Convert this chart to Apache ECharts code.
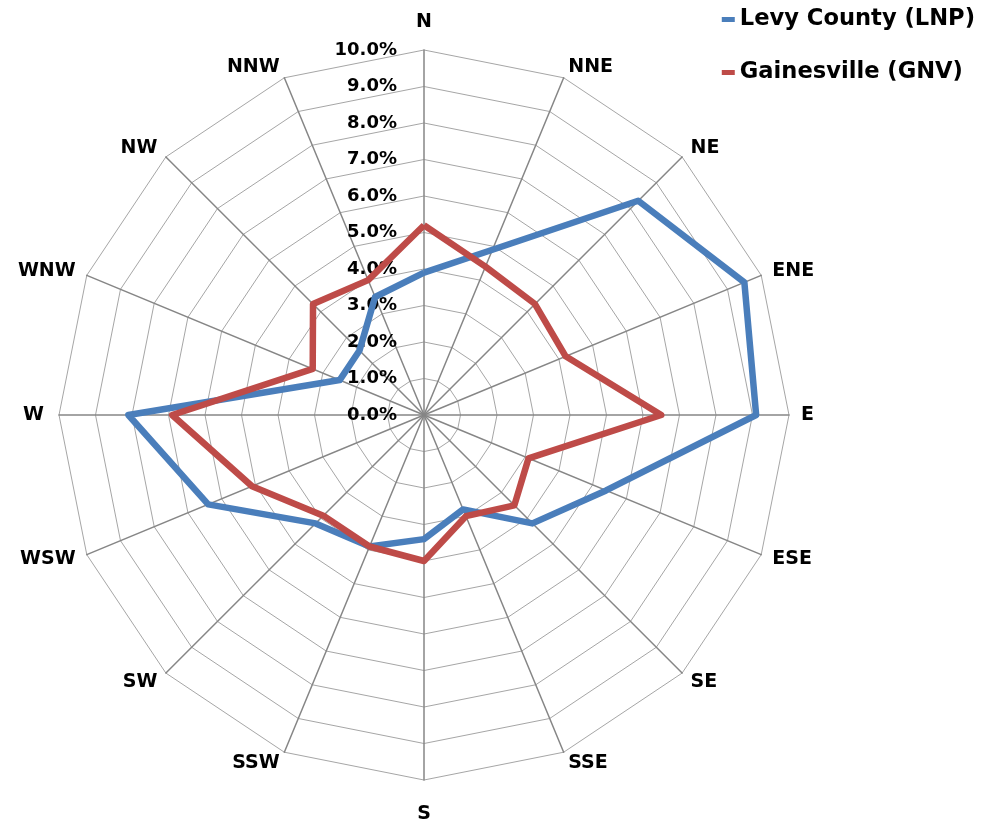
<!DOCTYPE html>
<html>
<head>
<meta charset="utf-8">
<script src="https://cdn.jsdelivr.net/npm/echarts@6/dist/echarts.min.js"></script>
<style>
html,body{margin:0;padding:0;background:#fff;}
#chart{width:992px;height:825px;}
</style>
</head>
<body>
<div id="chart"></div>
<script>
// Compass directions, clockwise from North
const directions = ['N','NNE','NE','ENE','E','ESE','SE','SSE','S','SSW','SW','WSW','W','WNW','NW','NNW'];
// Percent frequency of wind from each direction
const levyCounty = [3.9, 4.9, 8.3, 9.5, 9.1, 5.4, 4.2, 2.8, 3.4, 3.9, 4.2, 6.4, 8.1, 2.5, 2.5, 3.5];
const gainesville = [5.2, 4.4, 4.3, 4.2, 6.5, 3.1, 3.5, 3.0, 4.0, 3.9, 3.9, 5.1, 6.9, 3.3, 4.3, 4.0];
const seriesNames = ['Levy County (LNP)', 'Gainesville (GNV)'];
const axisMin = 0, axisMax = 10, axisStep = 1;

const FONT = '"DejaVu Sans", sans-serif';
// ECharts radar lays indicators counter-clockwise; reorder so they run clockwise.
const order = directions.map((d, i) => (directions.length - i) % directions.length);
const indicator = order.map((k, j) => {
  const ind = { name: directions[k], min: axisMin, max: axisMax };
  if (j === 0) {
    ind.axisLabel = {
      show: true, margin: 27, color: '#000', fontFamily: FONT, fontWeight: 'bold', fontSize: 18,
      formatter: v => Number(v).toFixed(1) + '%'
    };
  }
  return ind;
});
const reorder = arr => order.map(k => arr[k]);

const nameStyle = { color: '#000', fontFamily: FONT, fontWeight: 'bold', fontSize: 19 };
const chart = echarts.init(document.getElementById('chart'), null, { renderer: 'canvas' });
chart.setOption({
  backgroundColor: '#fff',
  animation: false,
  legend: {
    orient: 'vertical', right: 17, top: 8, itemGap: 30, padding: 0,
    icon: 'rect', itemWidth: 13, itemHeight: 5,
    textStyle: { fontFamily: FONT, fontWeight: 'bold', fontSize: 22.6, color: '#000' },
    data: seriesNames
  },
  radar: {
    center: [424, 415], radius: 365, startAngle: 90, shape: 'polygon',
    splitNumber: (axisMax - axisMin) / axisStep,
    indicator: indicator,
    axisName: Object.assign({}, nameStyle, {
      formatter: name => name === 'N' ? '{n|N}' : name === 'S' ? '{s|S}' : name === 'W' ? '{w|W}' : '{d|' + name + '}',
      rich: {
        n: Object.assign({}, nameStyle, { padding: [0, 0, 6, 0] }),
        s: Object.assign({}, nameStyle, { padding: [13, 0, 0, 0] }),
        w: Object.assign({}, nameStyle, { padding: [0, 3, 0, 0] }),
        d: Object.assign({}, nameStyle)
      }
    }),
    nameGap: 12,
    axisLine: { lineStyle: { color: '#868686', width: 1.5 } },
    splitLine: { lineStyle: { color: '#a6a6a6', width: 1 } },
    splitArea: { show: false },
    axisTick: { show: false },
    axisLabel: { show: false }
  },
  series: [{
    type: 'radar',
    symbol: 'none',
    data: [
      { name: seriesNames[0], value: reorder(levyCounty),
        lineStyle: { color: '#4a7ebb', width: 6.5 }, itemStyle: { color: '#4a7ebb' } },
      { name: seriesNames[1], value: reorder(gainesville),
        lineStyle: { color: '#be4b48', width: 6.5 }, itemStyle: { color: '#be4b48' } }
    ]
  }]
});
</script>
</body>
</html>
